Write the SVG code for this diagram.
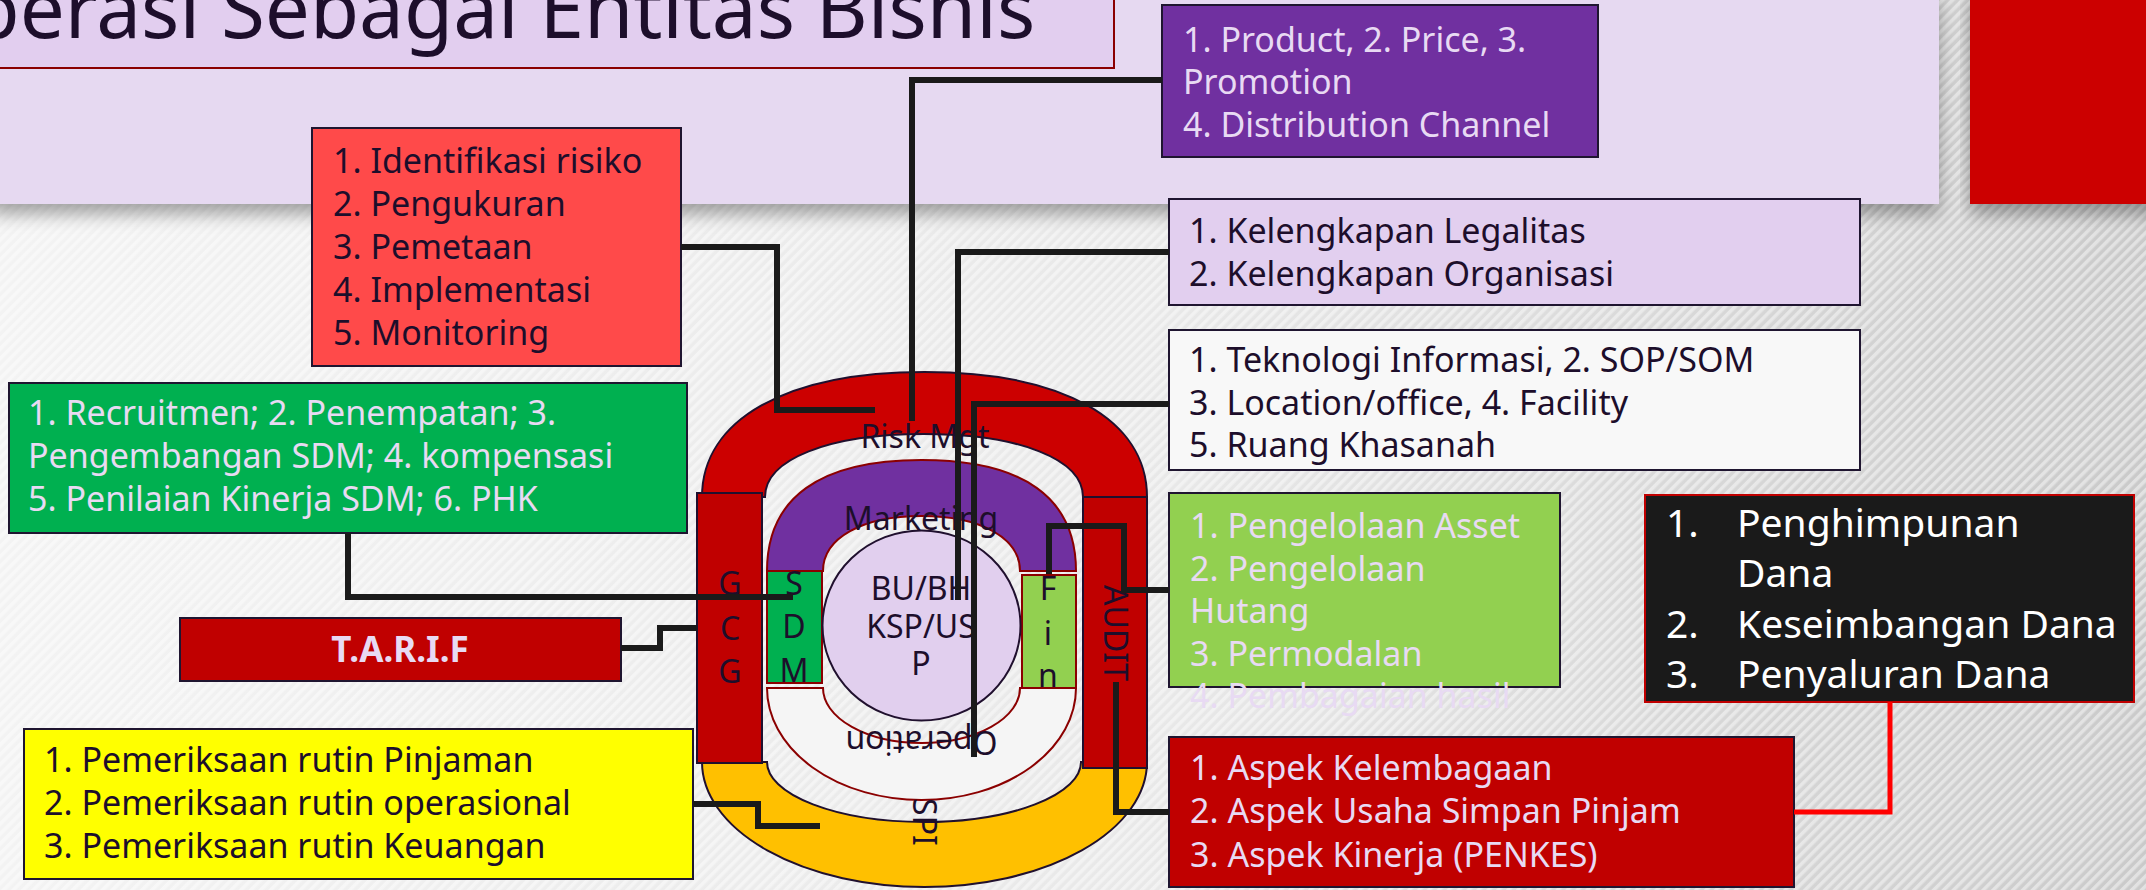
<svg xmlns="http://www.w3.org/2000/svg" width="2146" height="890" viewBox="0 0 2146 890">
<defs>
  <linearGradient id="bg" x1="0" y1="0" x2="1" y2="0">
    <stop offset="0" stop-color="#F3F3F3"/>
    <stop offset="0.55" stop-color="#E8E8E8"/>
    <stop offset="1" stop-color="#CACACA"/>
  </linearGradient>
  <pattern id="hatch" width="7" height="7" patternUnits="userSpaceOnUse" patternTransform="rotate(45)">
    <rect width="3.5" height="7" fill="#ffffff" fill-opacity="0.45"/>
  </pattern>
  <filter id="shadow" x="-5%" y="-10%" width="110%" height="150%">
    <feDropShadow dx="0" dy="10" stdDeviation="9" flood-color="#000000" flood-opacity="0.35"/>
  </filter>
</defs>
<style>
  text { font-family: "Noto Sans", "Open Sans", sans-serif; }
  .dark { fill: #1D0E2B; }
  .light { fill: #E8DAF3; }
  .box { stroke: #1F1530; stroke-width: 2; }
  .t { font-size: 34px; }
  .ring { stroke: #20102E; stroke-width: 2; }
  .inner { stroke: #8B0000; stroke-width: 2; }
  .lbl { font-size: 32px; text-anchor: middle; fill: #1D0E2B; }
  .conn { fill: none; stroke: #1A1A1A; stroke-width: 6; }
</style>

<!-- backdrop -->
<rect width="2146" height="890" fill="url(#bg)"/>
<rect width="2146" height="890" fill="url(#hatch)"/>

<!-- header band -->
<g id="header">
  <rect x="-10" y="-10" width="1949" height="214" fill="#E6D9F1" filter="url(#shadow)"/>
  <rect x="1970" y="-10" width="190" height="214" fill="#CC0000" filter="url(#shadow)"/>
  <rect x="-10" y="-10" width="1124" height="78" fill="#E2CEEF" stroke="#8B0000" stroke-width="2"/>
  <text x="-92" y="38" font-size="80" class="dark">Operasi Sebagai Entitas Bisnis</text>
</g>

<!-- core diagram -->
<g id="core">
  <path id="risk-arch" class="ring" fill="#CC0000"
        d="M702 497 C702 419.5 786.5 372 924.5 372 C1062.5 372 1147 419.5 1147 497 L1083 497 C1083 459.2 1019.4 434 924 434 C828.6 434 765 459.2 765 497 Z"/>
  <path id="spi-arch" class="ring" fill="#FFC000"
        d="M702 762 A222.5 125 0 0 0 1147 762 L1081 762 A157 60 0 0 1 767 762 Z"/>
  <rect id="gcg-bar" class="ring" x="697" y="493" width="65" height="270" fill="#C00000"/>
  <rect id="audit-bar" class="ring" x="1083" y="497" width="64" height="271" fill="#C00000"/>
  <path id="marketing-arch" class="inner" fill="#7030A0"
        d="M767 571 C767 498 819.5 460 921.5 460 C1023.5 460 1076 498 1076 571 L1020 571 C1020 538 980.6 516 921.5 516 C862.4 516 823 538 823 571 Z"/>
  <path id="operation-arch" class="inner" fill="#F5F5F5"
        d="M767 688 A154.5 112 0 0 0 1076 688 L1020 688 A98.5 55 0 0 1 823 688 Z"/>
  <rect id="sdm-bar" class="inner" x="767" y="571" width="55" height="112" fill="#00B050"/>
  <rect id="fin-bar" class="inner" x="1022" y="575" width="54" height="113" fill="#92D050"/>
  <ellipse id="core-circle" cx="921.5" cy="625.5" rx="99" ry="95" fill="#E1CFEE" stroke="#20102E" stroke-width="2"/>

  <text class="lbl" x="925" y="448">Risk Mgt</text>
  <text class="lbl" x="921" y="530">Marketing</text>
  <text class="lbl" x="921" y="600">BU/BH<tspan x="921" y="638">KSP/US</tspan><tspan x="921" y="675">P</tspan></text>
  <text class="lbl" x="730" y="595">G<tspan x="730" y="640">C</tspan><tspan x="730" y="683">G</tspan></text>
  <text class="lbl" x="794" y="595">S<tspan x="794" y="638">D</tspan><tspan x="794" y="682">M</tspan></text>
  <text class="lbl" x="1048" y="600">F<tspan x="1048" y="645">i</tspan><tspan x="1048" y="687">n</tspan></text>
  <text class="lbl" transform="translate(1104 633) rotate(90)">AUDIT</text>
  <text class="lbl" transform="translate(913 822) rotate(90)">SPI</text>
  <text class="lbl" transform="translate(921.5 731) rotate(180)">Operation</text>
</g>

<!-- detail boxes -->
<g id="risk-box">
  <rect class="box" x="312" y="128" width="369" height="238" fill="#FF4A4A"/>
  <text class="t dark" x="333" y="173">1. Identifikasi risiko</text>
  <text class="t dark" x="333" y="216">2. Pengukuran</text>
  <text class="t dark" x="333" y="259">3. Pemetaan</text>
  <text class="t dark" x="333" y="302">4. Implementasi</text>
  <text class="t dark" x="333" y="345">5. Monitoring</text>
</g>

<g id="sdm-box">
  <rect class="box" x="9" y="383" width="678" height="150" fill="#00B050"/>
  <text class="t light" x="28" y="425">1. Recruitmen; 2. Penempatan; 3.</text>
  <text class="t light" x="28" y="468">Pengembangan SDM; 4. kompensasi</text>
  <text class="t light" x="28" y="511">5. Penilaian Kinerja SDM; 6. PHK</text>
</g>

<g id="tarif-box">
  <rect class="box" x="180" y="618" width="441" height="63" fill="#C00000"/>
  <text class="light" x="400" y="662" font-size="35" font-weight="bold" text-anchor="middle">T.A.R.I.F</text>
</g>

<g id="spi-box">
  <rect class="box" x="24" y="729" width="669" height="150" fill="#FFFF00"/>
  <text class="t dark" x="44" y="772">1. Pemeriksaan rutin Pinjaman</text>
  <text class="t dark" x="44" y="815">2. Pemeriksaan rutin operasional</text>
  <text class="t dark" x="44" y="858">3. Pemeriksaan rutin Keuangan</text>
</g>

<g id="marketing-box">
  <rect class="box" x="1162" y="5" width="436" height="152" fill="#7030A0"/>
  <text class="t light" x="1183" y="52">1. Product, 2. Price, 3.</text>
  <text class="t light" x="1183" y="94">Promotion</text>
  <text class="t light" x="1183" y="137">4. Distribution Channel</text>
</g>

<g id="legal-box">
  <rect class="box" x="1169" y="199" width="691" height="106" fill="#E2CFEF"/>
  <text class="t dark" x="1189" y="243">1. Kelengkapan Legalitas</text>
  <text class="t dark" x="1189" y="286">2. Kelengkapan Organisasi</text>
</g>

<g id="operation-box">
  <rect class="box" x="1169" y="330" width="691" height="140" fill="#F8F8F8"/>
  <text class="t dark" x="1189" y="372">1. Teknologi Informasi, 2. SOP/SOM</text>
  <text class="t dark" x="1189" y="415">3. Location/office, 4. Facility</text>
  <text class="t dark" x="1189" y="457">5. Ruang Khasanah</text>
</g>

<g id="finance-box">
  <rect class="box" x="1169" y="493" width="391" height="194" fill="#92D050"/>
  <text class="t light" x="1190" y="538">1. Pengelolaan Asset</text>
  <text class="t light" x="1190" y="581">2. Pengelolaan</text>
  <text class="t light" x="1190" y="623">Hutang</text>
  <text class="t light" x="1190" y="666">3. Permodalan</text>
  <text class="t light" x="1190" y="708">4. Pembagaian hasil</text>
</g>

<g id="fund-box">
  <rect x="1645" y="495" width="489" height="207" fill="#1A1A1A" stroke="#C00000" stroke-width="2"/>
  <g fill="#FFFFFF" font-size="39">
    <text x="1666" y="537">1.</text>
    <text x="1737" y="537">Penghimpunan</text>
    <text x="1737" y="587">Dana</text>
    <text x="1666" y="638">2.</text>
    <text x="1737" y="638">Keseimbangan Dana</text>
    <text x="1666" y="688">3.</text>
    <text x="1737" y="688">Penyaluran Dana</text>
  </g>
</g>

<g id="audit-box">
  <rect class="box" x="1169" y="737" width="625" height="150" fill="#C00000"/>
  <text class="t light" x="1190" y="780">1. Aspek Kelembagaan</text>
  <text class="t light" x="1190" y="823">2. Aspek Usaha Simpan Pinjam</text>
  <text class="t light" x="1190" y="867">3. Aspek Kinerja (PENKES)</text>
</g>

<!-- connectors -->
<g id="connectors">
  <path class="conn" d="M681 247 H777 V410 H875"/>
  <path class="conn" d="M1162 80 H912 V421"/>
  <path class="conn" d="M1169 252 H958 V600"/>
  <path class="conn" d="M1169 404 H974 V757"/>
  <path class="conn" d="M1169 590 H1124 V526 H1049 V574"/>
  <path class="conn" d="M1169 812 H1116 V682"/>
  <path class="conn" d="M348 533 V597 H793"/>
  <path class="conn" d="M621 648 H660 V628 H697"/>
  <path class="conn" d="M693 804 H758 V826 H820"/>
  <path fill="none" stroke="#FF0000" stroke-width="5" d="M1890 702 V812 H1794"/>
</g>
</svg>
